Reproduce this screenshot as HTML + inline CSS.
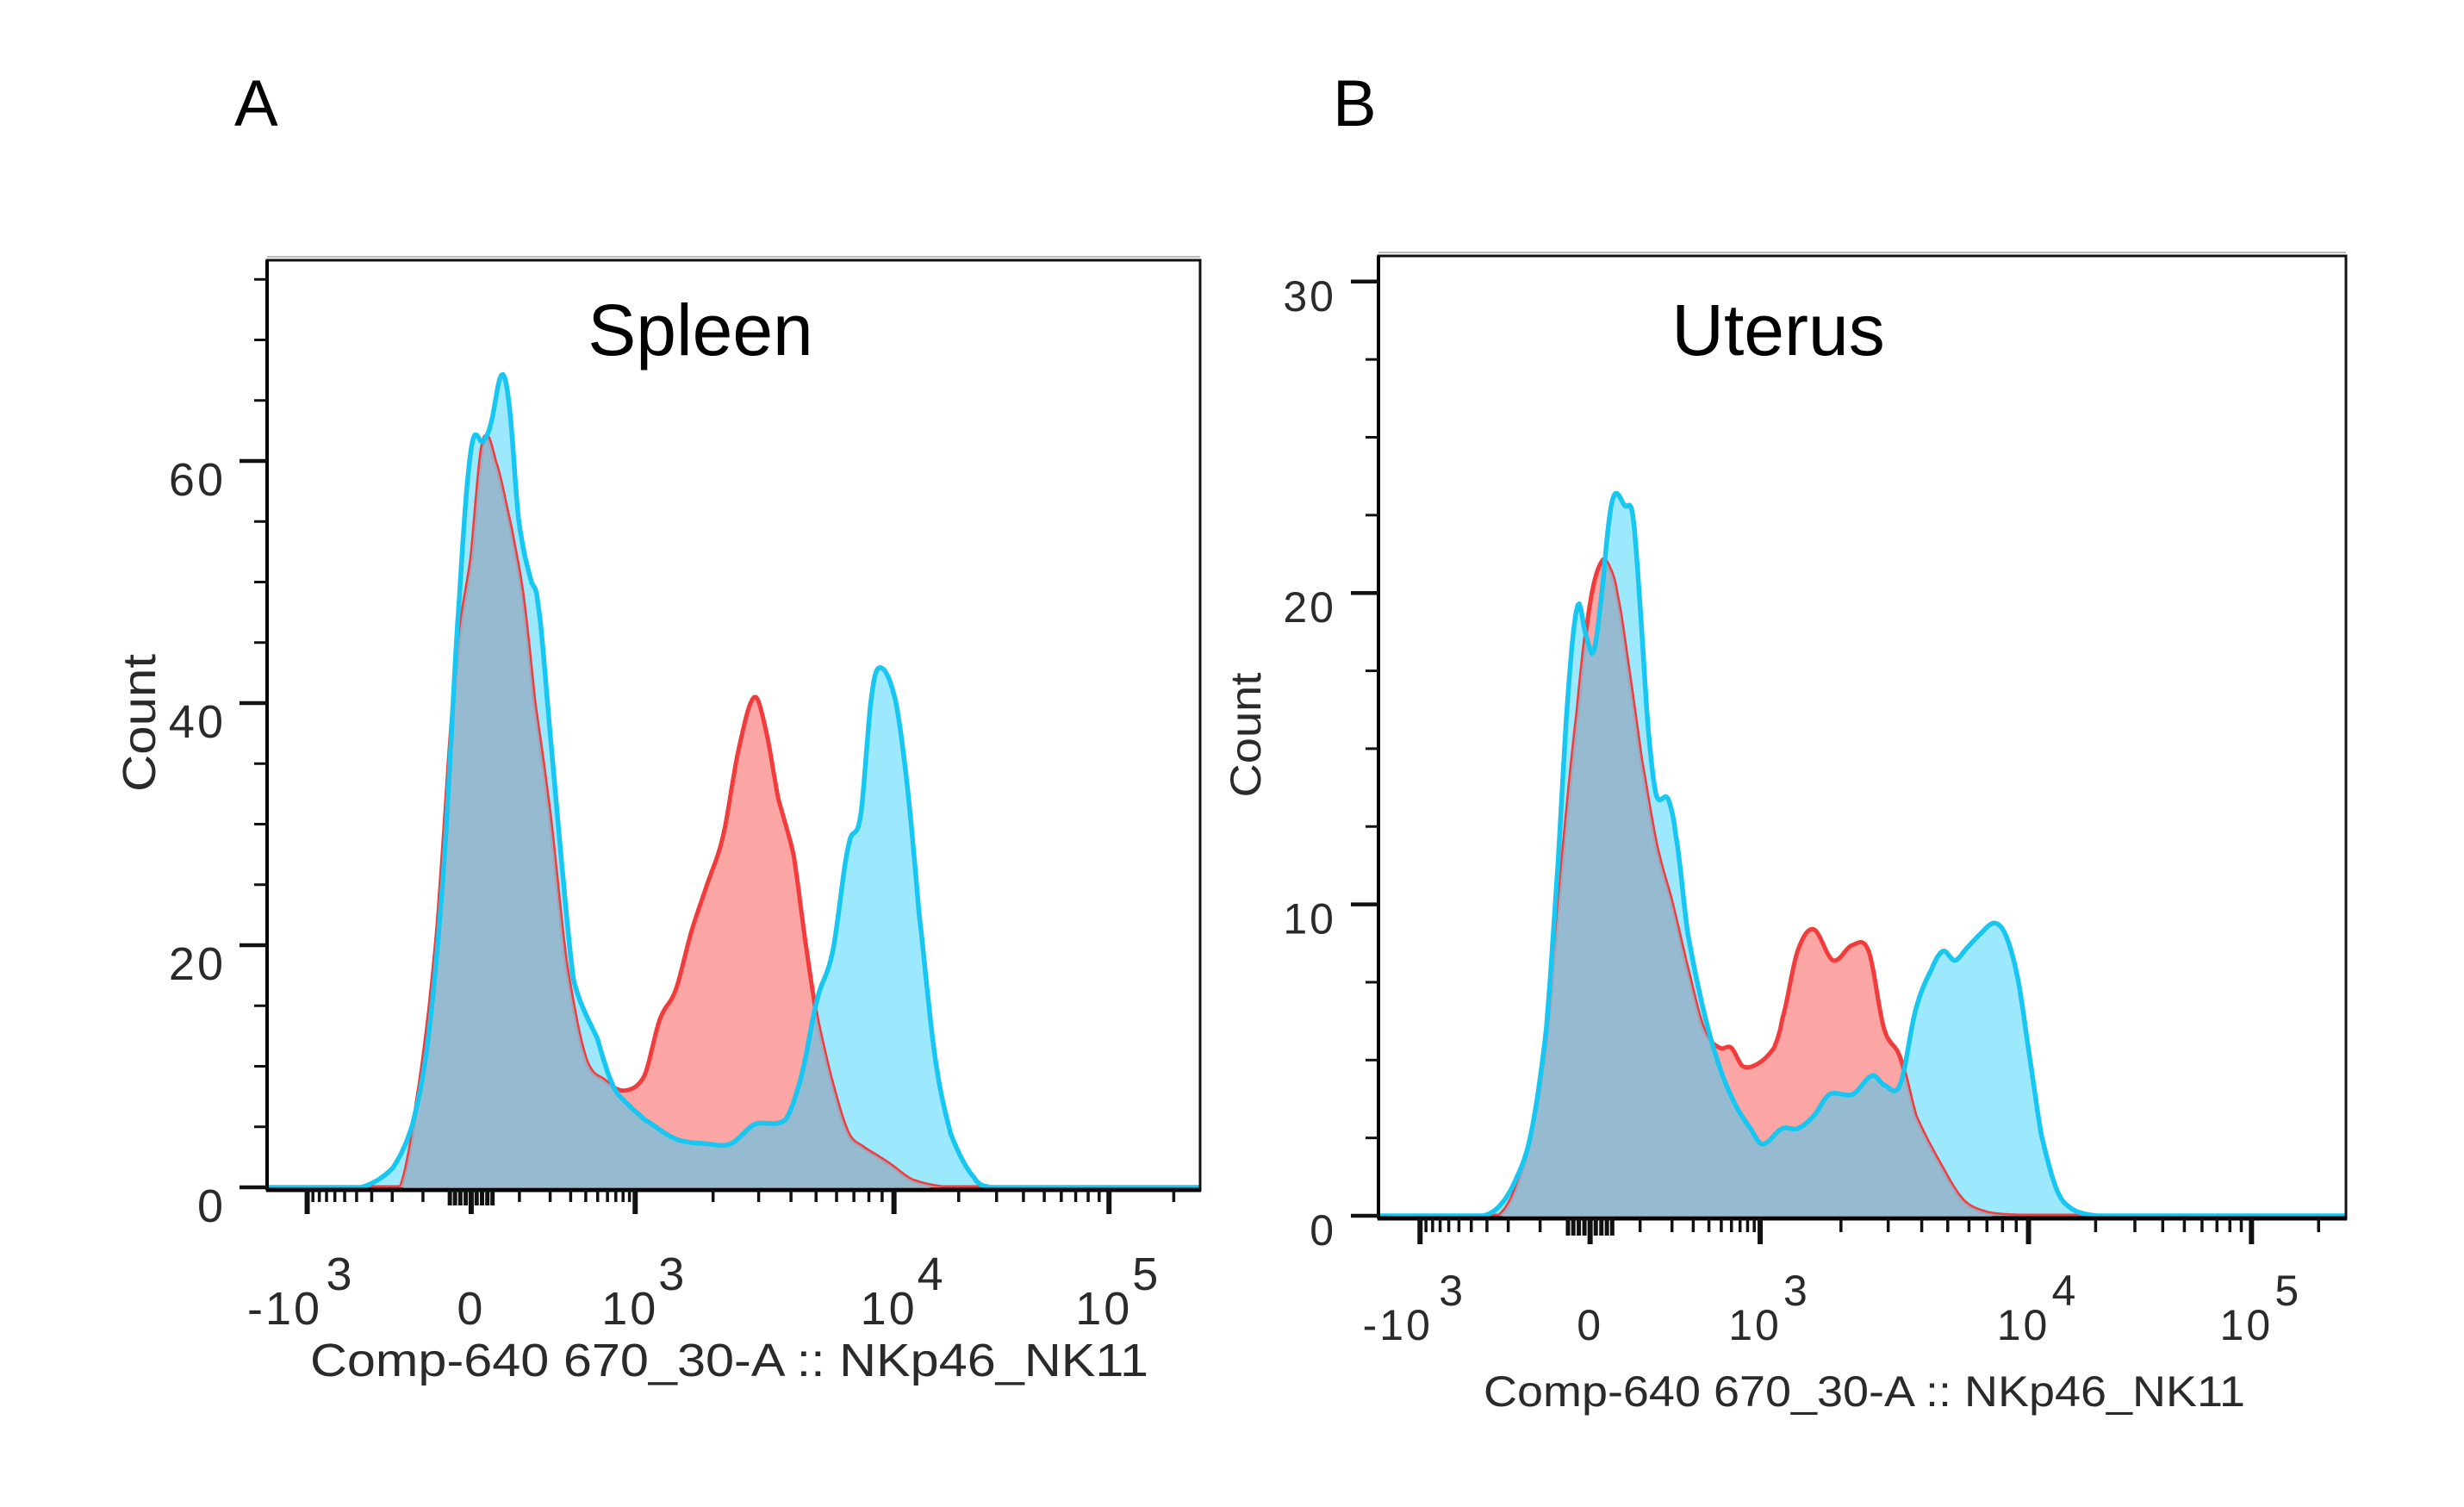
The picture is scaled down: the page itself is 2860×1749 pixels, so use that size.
<!DOCTYPE html>
<html><head><meta charset="utf-8">
<style>
html,body{margin:0;padding:0;background:#fff;}
svg{display:block;}
text{font-family:"Liberation Sans",Arial,sans-serif;}
</style></head>
<body>
<svg id="fig" width="2860" height="1749" viewBox="0 0 2860 1749" xmlns="http://www.w3.org/2000/svg">
<rect x="0" y="0" width="2860" height="1749" fill="#fff"/>
<text x="272" y="146" font-size="76" fill="#000">A</text>
<text x="1547" y="146" font-size="76" fill="#000">B</text>
<g id="panelA"></g>
<g id="panelB"></g>
</svg>
<script>
// ---- Data (x = histogram channel 0..256, y = count) ----
const spleenRedCh = [0,30.2,36.7,41.0,46.4,51.8,56.1,59.3,62.5,66.9,70.1,73.3,77.6,81.9,87.3,92.7,98.1,103.5,107.8,112.1,116.4,120.7,125.1,129.4,133.7,136.9,140.2,144.5,147.7,150.9,155.2,159.5,163.9,170.3,176.8,185.4,256];
const spleenRedCount = [0,0,0,6.8,20.3,42.5,52,61.6,60.0,54.4,48.9,40.1,30.6,18.7,10.7,8.8,8.0,9.2,13.9,16.3,21.1,25.0,29.0,36.2,40.5,37.7,32.2,27.4,20.3,13.9,8.4,4.4,3.2,2.0,0.6,0,0];
const spleenBlueCh = [0,25.9,34.5,39.9,44.2,48.5,52.8,56.1,59.3,61.4,64.3,66.4,69.0,72.2,74.4,77.6,80.9,84.1,90.6,94.9,99.2,103.5,112.1,120.7,127.2,133.7,142.3,146.6,150.9,155.2,159.5,162.8,166.0,168.6,172.5,175.7,178.9,183.3,187.6,194.0,198.3,256];
const spleenBlueCount = [0,0,1.6,5.2,12.3,26.6,48.9,61.2,61.6,63.1,67.1,64.7,55.2,50.4,48.1,37.7,26.6,17.1,12.3,8.4,6.8,5.6,4.0,3.6,3.6,5.2,5.6,9.2,15.5,19.5,28.2,30.6,40.9,42.9,40.1,33.0,22.6,10.7,4.4,0.8,0,0];
const uterusRedCh = [0,31.9,36.1,40.3,44.4,48.6,52.7,55.9,59.0,61.1,63.1,66.3,69.4,73.5,77.7,81.8,86.0,90.2,93.3,96.4,100.6,104.7,106.8,110.9,115.1,120.3,125.5,129.7,133.8,138.0,142.1,148.4,154.6,160.9,169.2,256];
const uterusRedCount = [0,0,0.8,2.6,5.7,11.3,16.2,19.6,21.0,20.8,19.9,17.4,14.7,11.9,10.0,7.9,6.0,5.4,5.4,4.8,4.9,5.4,6.3,8.5,9.2,8.2,8.7,8.5,6.0,5.1,3.2,1.7,0.5,0.1,0,0];
const uterusBlueCh = [0,27.8,31.9,36.1,40.3,44.4,47.5,50.2,52.7,54.8,56.9,59.0,61.1,62.7,65.2,67.3,69.4,71.4,73.5,76.6,78.7,81.8,86.0,90.2,94.3,98.5,101.6,106.8,110.9,115.1,119.3,125.5,130.7,133.8,138.0,142.1,146.3,149.4,152.5,155.7,158.8,162.9,166.0,169.2,172.3,175.4,179.6,183.7,190.0,256];
const uterusBlueCount = [0,0,0.3,1.1,2.6,6.0,11.3,16.8,19.6,18.7,18.1,19.9,22.4,23.2,22.8,22.5,19.3,15.6,13.5,13.4,12.2,9.1,6.6,4.8,3.6,2.8,2.3,2.8,2.8,3.2,3.9,3.9,4.5,4.2,4.2,6.6,7.9,8.5,8.2,8.6,9.0,9.4,9.0,7.6,5.1,2.6,0.8,0.2,0,0];
const xTickLabels = ["-10","0","10","10","10"];
const xTickSup = ["3","","3","4","5"];
const xTickValues = [-1000,0,1000,10000,100000];
const spleenYTicks = [0,20,40,60];
const uterusYTicks = [0,10,20,30];

const NS="http://www.w3.org/2000/svg";
function mk(parent,tag,attrs){const e=document.createElementNS(NS,tag);for(const k in attrs)e.setAttribute(k,attrs[k]);parent.appendChild(e);return e;}

function chOf(v){
  const w=100, a=Math.asinh(1000/w);
  if(v>=1000){const l=Math.log10(v);return l<=4?101+(l-3)*71:172+(l-4)*59;}
  if(v>=0) return 56+45*Math.asinh(v/w)/a;
  return 56-45*Math.asinh(-v/w)/a;
}
function smooth(xs,ys){
  const ox=[],oy=[];
  for(let i=0;i<xs.length-1;i++){
    const x1=xs[i],x2=xs[i+1];
    const y0=ys[Math.max(i-1,0)],y1=ys[i],y2=ys[i+1],y3=ys[Math.min(i+2,ys.length-1)];
    const n=Math.max(2,Math.ceil((x2-x1)*2));
    for(let k=0;k<n;k++){
      const t=k/n,t2=t*t,t3=t2*t;
      const f=(p0,p1,p2,p3)=>0.5*((2*p1)+(-p0+p2)*t+(2*p0-5*p1+4*p2-p3)*t2+(-p0+3*p1-3*p2+p3)*t3);
      let yy=f(y0,y1,y2,y3);
      if(yy<0)yy=0;
      ox.push(x1+(x2-x1)*t);oy.push(yy);
    }
  }
  ox.push(xs[xs.length-1]);oy.push(ys[ys.length-1]);
  return [ox,oy];
}
function interp(xs,ys,x){
  for(let i=0;i<xs.length-1;i++){if(x>=xs[i]&&x<=xs[i+1]){const t=(x-xs[i])/((xs[i+1]-xs[i])||1);return ys[i]+t*(ys[i+1]-ys[i]);}}
  return 0;
}

function panel(g,cfg){
  const X=ch=>cfg.left+ch/256*(cfg.right-cfg.left);
  const Y=c=>cfg.y0-c*cfg.ppu;
  const [rx,ry]=smooth(cfg.rx,cfg.ry);
  const [bx,by]=smooth(cfg.bx,cfg.by);
  function area(xs,ys){let d=`M${X(xs[0])},${Y(0)}`;for(let i=0;i<xs.length;i++)d+=`L${X(xs[i]).toFixed(1)},${Y(ys[i]).toFixed(1)}`;d+=`L${X(xs[xs.length-1])},${Y(0)}Z`;return d;}
  function line(xs,ys){let d="";for(let i=0;i<xs.length;i++)d+=(i?"L":"M")+X(xs[i]).toFixed(1)+","+Y(ys[i]).toFixed(1);return d;}
  const redFill=mk(g,"path",{d:area(rx,ry),fill:"#fba5a5"});
  
  
  const blueFill=mk(g,"path",{d:area(bx,by),fill:"#9ce8fc"});
  
  
  const redLine=mk(g,"path",{d:line(rx,ry),fill:"none",stroke:"#f23b3b","stroke-width":5,"stroke-linejoin":"round"});
  
  
  let d=`M${X(0)},${Y(0)}`;
  for(let c=0;c<=256;c+=0.5){const m=Math.min(interp(rx,ry,c),interp(bx,by,c));d+=`L${X(c).toFixed(1)},${Y(m).toFixed(1)}`;}
  d+=`L${X(256)},${Y(0)}Z`;
  const ov=mk(g,"path",{d:d,fill:"#96b6cb","fill-opacity":0.9});
  
  
  const blueLine=mk(g,"path",{d:line(bx,by),fill:"none",stroke:"#18c6f2","stroke-width":5.5,"stroke-linejoin":"round"});
  
  
  const fr=mk(g,"rect",{x:cfg.left,y:cfg.top,width:cfg.right-cfg.left,height:cfg.bottom-cfg.top,fill:"none",stroke:"#111","stroke-width":3});
  
  
  mk(g,"line",{x1:cfg.left,y1:cfg.top-4,x2:cfg.right,y2:cfg.top-4,stroke:"#bbb","stroke-width":2});
  mk(g,"line",{x1:cfg.left-1,y1:cfg.bottom,x2:cfg.right+1,y2:cfg.bottom,stroke:"#000","stroke-width":5});
  mk(g,"line",{x1:cfg.left,y1:cfg.top,x2:cfg.left,y2:cfg.bottom,stroke:"#000","stroke-width":4});
  for(let v=0;v<=cfg.ymax+0.01;v+=cfg.minorStep){
    const major=cfg.yTicks.some(t=>Math.abs(t-v)<0.01);
    mk(g,"line",{x1:cfg.left-(major?32:15),y1:Y(v),x2:cfg.left,y2:Y(v),stroke:"#111","stroke-width":major?4.5:3});
  }
  cfg.yTicks.forEach(t=>{
    const tx=mk(g,"text",{x:cfg.ylabX,y:Y(t)+cfg.ylabDy,"font-size":cfg.tfs,"text-anchor":"end",fill:"#2a2a2a","letter-spacing":3});
    tx.textContent=t;
    
    
  });
  const minors=[];
  for(let k=1;k<=9;k++){minors.push(k*100,-k*100);}
  for(let k=1;k<=4;k++){minors.push(k*10,-k*10);}
  for(let k=2;k<=9;k++){minors.push(k*1000,k*10000);}
  minors.push(200000,-2000);
  minors.forEach(v=>{const c=chOf(v);if(c<2||c>255)return;
    const near=Math.abs(v)<100;
    mk(g,"line",{x1:X(c),y1:cfg.bottom,x2:X(c),y2:cfg.bottom+cfg.minorLen+(near?4:0),stroke:"#111","stroke-width":near?5:3.5});});
  xTickValues.forEach((v,i)=>{
    const c=chOf(v);
    mk(g,"line",{x1:X(c),y1:cfg.bottom,x2:X(c),y2:cfg.bottom+cfg.majorLen,stroke:"#111","stroke-width":6});
    const tx=mk(g,"text",{x:X(c)+(i===0?-20:0)+(xTickSup[i]?-6:0),y:cfg.xlabY,"font-size":cfg.tfs,"text-anchor":"middle",fill:"#2a2a2a","letter-spacing":3});
    tx.textContent=xTickLabels[i];
    
    
    if(xTickSup[i]){
      const bb=X(c)+(i===0?-20:0)-6+(i===0?48:33);
      const sp=mk(g,"text",{x:bb,y:cfg.xlabY-40,"font-size":cfg.tfs,fill:"#2a2a2a"});
      sp.textContent=xTickSup[i];
      
      
    }
  });
  const xt=mk(g,"text",{x:cfg.xtX,y:cfg.xtY,"font-size":cfg.tfs,fill:"#2a2a2a",textLength:cfg.xtW,lengthAdjust:"spacingAndGlyphs"});
  xt.textContent="Comp-640 670_30-A :: NKp46_NK11";
  
  
  const yt=mk(g,"text",{x:0,y:0,"font-size":cfg.tfs,fill:"#2a2a2a","text-anchor":"middle",transform:`translate(${cfg.ytX},${cfg.ytY}) rotate(-90)`,textLength:cfg.ytW,lengthAdjust:"spacingAndGlyphs"});
  yt.textContent="Count";
  
  
  const tt=mk(g,"text",{x:cfg.titleX,y:cfg.titleY,"font-size":84,"text-anchor":"middle",fill:"#000"});
  tt.textContent=cfg.title;
  
  
}

panel(document.getElementById('panelA'),{left:310,right:1393,top:302,bottom:1381,y0:1378,ppu:14.05,ymax:75,minorStep:5,yTicks:spleenYTicks,
  rx:spleenRedCh,ry:spleenRedCount,bx:spleenBlueCh,by:spleenBlueCount,ylabX:262,ylabDy:40,tfs:54,minorLen:14,majorLen:28,xlabY:1537,
  xtX:360,xtY:1597,xtW:973,ytX:180,ytY:839,ytW:160,title:"Spleen",titleX:813,titleY:412});
panel(document.getElementById('panelB'),{left:1600,right:2723,top:297,bottom:1414,y0:1411,ppu:36.14,ymax:30,minorStep:2.5,yTicks:uterusYTicks,
  rx:uterusRedCh,ry:uterusRedCount,bx:uterusBlueCh,by:uterusBlueCount,ylabX:1551,ylabDy:34,tfs:50,minorLen:16,majorLen:30,xlabY:1555,
  xtX:1722,xtY:1632,xtW:884,ytX:1463,ytY:853,ytW:145,title:"Uterus",titleX:2064,titleY:412});
</script>
</body></html>
